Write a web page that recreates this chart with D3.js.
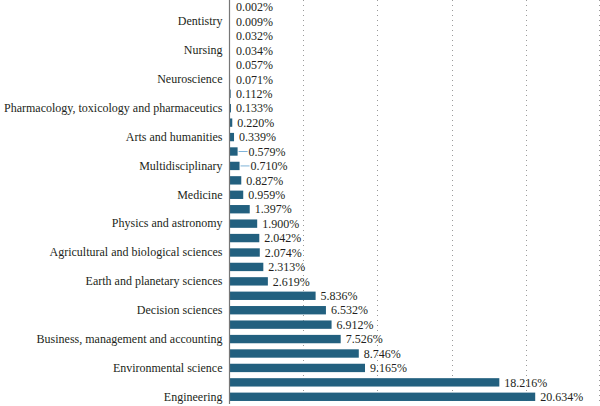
<!DOCTYPE html>
<html>
<head>
<meta charset="utf-8">
<script src="https://cdn.jsdelivr.net/npm/d3@7"></script>
<style>
  html, body { margin: 0; padding: 0; background: #fff; }
  svg { display: block; }
  text { font-family: "Liberation Serif", "Times New Roman", "DejaVu Serif", serif; fill: #231f20; }
</style>
</head>
<body>
<svg id="chart" width="600" height="406"></svg>
<script>
// Categories top to bottom
const categories = [
  "Undefined", "Dentistry", "Veterinary", "Nursing", "Immunology and microbiology",
  "Neuroscience", "Health professions", "Pharmacology, toxicology and pharmaceutics",
  "Biochemistry, genetics and molecular biology", "Arts and humanities", "Psychology",
  "Multidisciplinary", "Chemical engineering", "Medicine", "Chemistry",
  "Physics and astronomy", "Materials science", "Agricultural and biological sciences",
  "Economics, econometrics and finance", "Earth and planetary sciences", "Mathematics",
  "Decision sciences", "Social sciences", "Business, management and accounting",
  "Energy", "Environmental science", "Computer science", "Engineering"
];
const values = [
  0.002, 0.009, 0.032, 0.034, 0.057, 0.071, 0.112, 0.133, 0.220, 0.339,
  0.579, 0.710, 0.827, 0.959, 1.397, 1.900, 2.042, 2.074, 2.313, 2.619,
  5.836, 6.532, 6.912, 7.526, 8.746, 9.165, 18.216, 20.634
];
// Only every other category label is shown on the axis
const shownLabels = [
  "Dentistry", "Nursing", "Neuroscience", "Pharmacology, toxicology and pharmaceutics",
  "Arts and humanities", "Multidisciplinary", "Medicine", "Physics and astronomy",
  "Agricultural and biological sciences", "Earth and planetary sciences",
  "Decision sciences", "Business, management and accounting",
  "Environmental science", "Engineering"
];
const gridTicks = [5, 10, 15, 20, 25];
const leaderCategories = ["Psychology", "Multidisciplinary"];

const data = categories.map((c, i) => ({ cat: c, val: values[i] }));

const svg = d3.select("#chart");
const left = 229, right = 600;
const fontStack = "'Liberation Serif', 'Times New Roman', 'DejaVu Serif', serif";

const x = d3.scaleLinear().domain([0, 25]).range([left, right]);
const y = d3.scaleBand().domain(categories).range([0, 404])
  .paddingInner(0.42).paddingOuter(0.21);

// dotted grid lines
svg.append("g").selectAll("line").data(gridTicks).join("line")
  .attr("x1", d => Math.min(Math.round(x(d)) + 0.5, 599.5))
  .attr("x2", d => Math.min(Math.round(x(d)) + 0.5, 599.5))
  .attr("y1", 0).attr("y2", 404)
  .attr("stroke", "#9a9a9a").attr("stroke-width", 1)
  .attr("stroke-dasharray", "1,4");

// bars
svg.append("g").selectAll("rect").data(data).join("rect")
  .attr("x", left)
  .attr("y", d => y(d.cat))
  .attr("width", d => Math.max(x(d.val) - left, 0.6))
  .attr("height", y.bandwidth())
  .attr("fill", "#22607f");

// y axis
const yAxis = d3.axisLeft(y).tickSize(0).tickPadding(7)
  .tickFormat(d => shownLabels.includes(d) ? d : "");
const gy = svg.append("g").attr("transform", `translate(${left + 0.5},0)`).call(yAxis);
gy.attr("font-family", fontStack).attr("font-size", 12);
gy.select(".domain").remove();
gy.selectAll("text").style("font-size", "12px").style("font-family", fontStack).attr("fill", "#231f20");
svg.append("line").attr("x1", left + 0.5).attr("x2", left + 0.5)
  .attr("y1", 0).attr("y2", 404).attr("stroke", "#777").attr("stroke-width", 1.2);

// leader lines
svg.append("g").selectAll("line").data(data.filter(d => leaderCategories.includes(d.cat))).join("line")
  .attr("x1", d => x(d.val) + 1)
  .attr("x2", d => x(d.val) + 10)
  .attr("y1", d => y(d.cat) + y.bandwidth() / 2)
  .attr("y2", d => y(d.cat) + y.bandwidth() / 2)
  .attr("stroke", "#7fb3d8").attr("stroke-width", 1);

// value labels
svg.append("g").selectAll("text").data(data).join("text")
  .attr("x", d => leaderCategories.includes(d.cat) ? x(d.val) + 11 : Math.max(x(d.val) + 5, left + 7))
  .attr("y", d => y(d.cat) + y.bandwidth() / 2)
  .attr("dy", "0.35em")
  .style("font-size", "12px")
  .style("font-family", fontStack)
  .text(d => d.val.toFixed(3) + "%");
</script>
</body>
</html>
